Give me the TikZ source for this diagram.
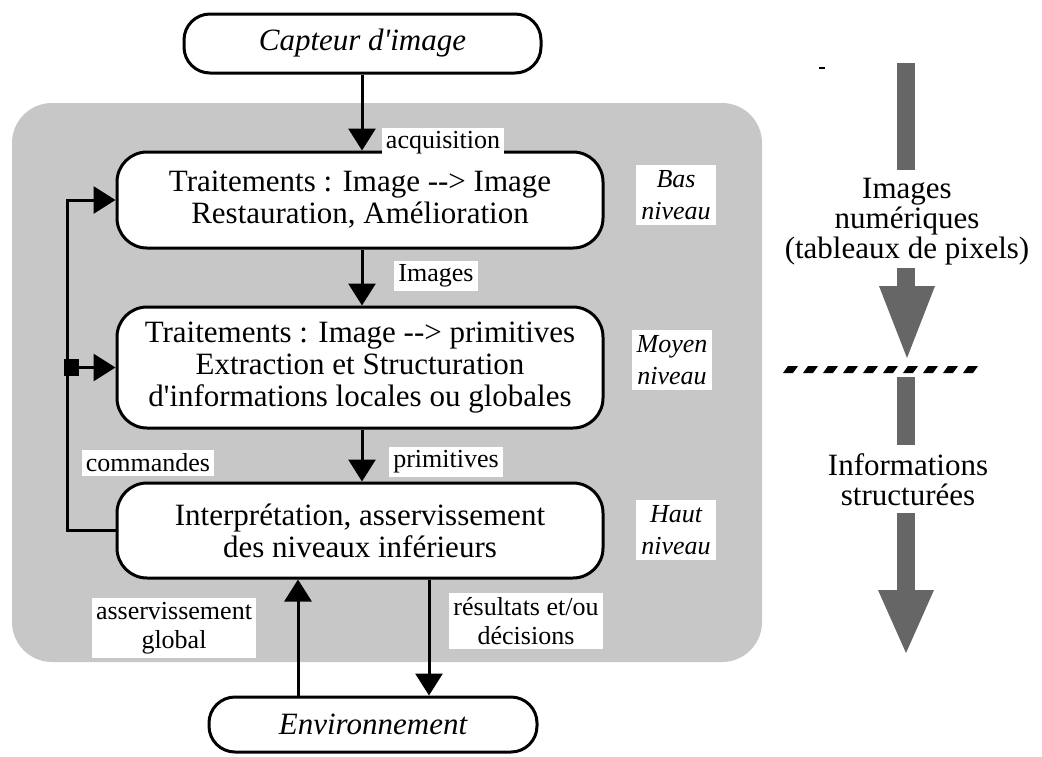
\documentclass[tikz,border=0pt]{standalone}
\usepackage{fontspec}
\setmainfont{Liberation Serif}
\usetikzlibrary{arrows.meta}
\newcommand{\arrtxt}{\mbox{-}\mbox{-}\mbox{>}}
\newcommand{\apos}{\textquotesingle}
\begin{document}
\begin{tikzpicture}[x=1pt,y=-1pt,
  box/.style={draw, line width=3pt, rounded corners=30pt, fill=white, align=center,
    font=\fontsize{31}{32}\selectfont, inner sep=0pt, minimum width=486pt},
  term/.style={draw, line width=3pt, rounded corners=26pt, fill=white, align=center,
    font=\fontsize{31}{32}\selectfont\itshape, inner sep=0pt},
  lab/.style={fill=white, align=center, font=\fontsize{26}{29}\selectfont, inner sep=4pt},
  lvl/.style={fill=white, align=center, font=\fontsize{26}{32}\selectfont\itshape, inner sep=5pt},
  arr/.style={line width=3pt, -{Triangle[length=22pt,width=27pt]}},
  side/.style={align=center, font=\fontsize{31}{30}\selectfont},
  bigarrow/.style={fill=black!60}
]
\useasboundingbox (0,0) rectangle (1042,756);
% shaded zone
\fill[black!22, rounded corners=40pt] (12,103) rectangle (762,662);

% main nodes
\node[term, minimum width=357pt, minimum height=59pt] (cap) at (362.5,43.5) {Capteur d\apos image};
\node[box, minimum height=96pt] (b1) at (360,200) {Traitements : Image \arrtxt{} Image\\Restauration, Amélioration};
\node[box, minimum height=121pt] (b2) at (360,367.5) {Traitements : Image \arrtxt{} primitives\\Extraction et Structuration\\d\apos informations locales ou globales};
\node[box, minimum height=95pt] (b3) at (360,530.5) {Interprétation, asservissement\\des niveaux inférieurs};
\node[term, minimum width=328pt, minimum height=55pt] (env) at (373,724.5) {Environnement};

% helper x positions
\coordinate (mx) at (362,0);
\coordinate (fx) at (67,0);
\coordinate (ux) at (298,0);
\coordinate (dx) at (429,0);
\coordinate (jx) at (71,0);

% main flow arrows
\draw[arr] (cap.south -| mx) -- (b1.north -| mx);
\draw[arr] (b1.south -| mx) -- (b2.north -| mx);
\draw[arr] (b2.south -| mx) -- (b3.north -| mx);
\draw[arr] (env.north -| ux) -- (b3.south -| ux);
\draw[arr] (b3.south -| dx) -- (env.north -| dx);

% feedback loop
\draw[arr, line join=miter] (b3.west) -- (b3.west -| fx) -- (b1.west -| fx) -- (b1.west);
\draw[arr] (b2.west -| fx) -- (b2.west);
\node[fill=black, minimum width=15pt, minimum height=17pt, inner sep=0pt] (jn) at (b2.west -| jx) {};

% labels
\node[lab] (lacq) at (443,143) {acquisition};
\node[lab] (limg) at (436,276) {Images};
\node[lab] (lprim) at (446,462) {primitives};
\node[lab] (lcmd) at (148,463) {commandes};
\node[lab] (lasg) at (174,628) {asservissement\\global};
\node[lab] (lres) at (526,621) {résultats et/ou\\décisions};

\node[lvl] (lbas) at (676,195) {Bas\\niveau};
\node[lvl] (lmoy) at (672,360) {Moyen\\niveau};
\node[lvl] (lhaut) at (676,530) {Haut\\niveau};

% right column
\draw[line width=1.5pt] (819,68) -- (825,68);
\fill[bigarrow] (897,63) rectangle (915,170);
\node[side] (rimg) at (907,222) {Images\\numériques\\(tableaux de pixels)};
\fill[bigarrow] (897,268) rectangle (915,288);
\fill[bigarrow] (879,286) -- (935,286) -- (907,358) -- cycle;
\foreach \i in {0,...,9} {
  \fill (783+20*\i,373) -- (793+20*\i,373) -- (798+20*\i,366) -- (788+20*\i,366) -- cycle;
}
\fill[bigarrow] (897,377) rectangle (915,445);
\node[side] (rinf) at (908,480) {Informations\\structurées};
\fill[bigarrow] (897,513) rectangle (915,592);
\fill[bigarrow] (878,590) -- (934,590) -- (906,653) -- cycle;
\end{tikzpicture}
\end{document}
